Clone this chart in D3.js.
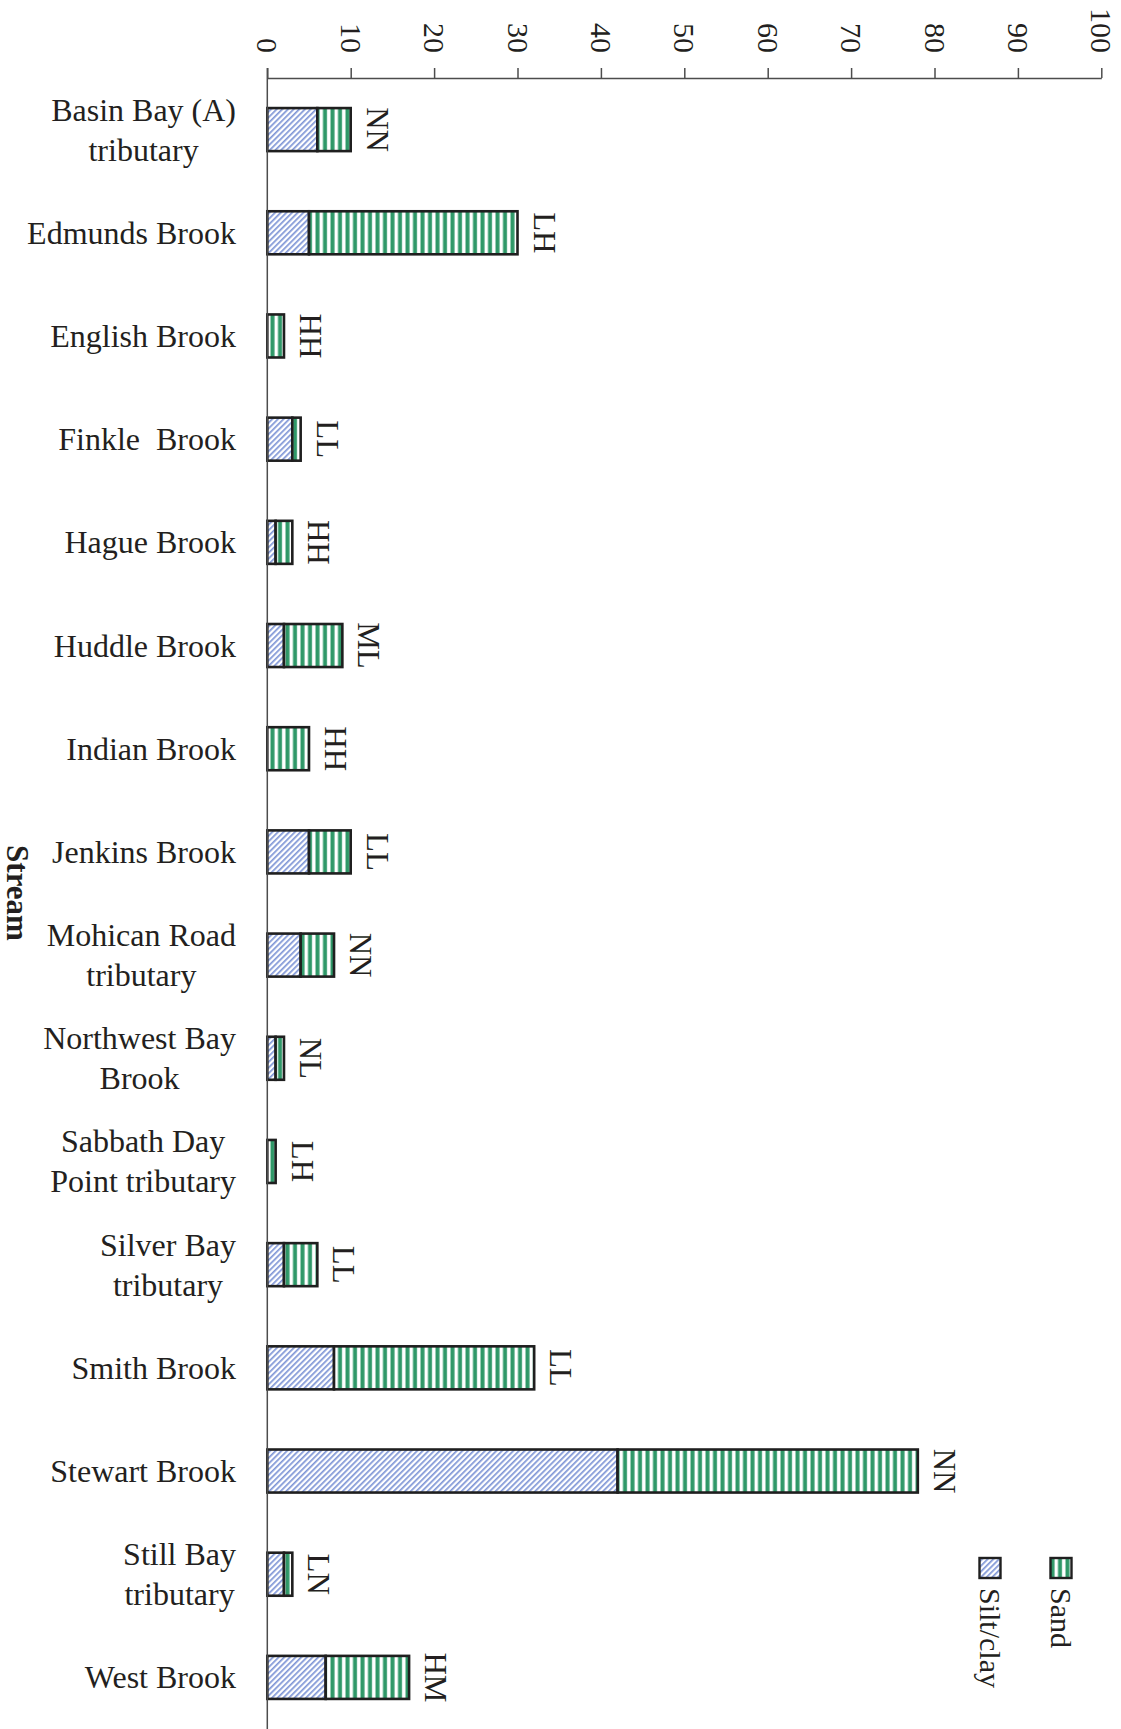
<!DOCTYPE html>
<html>
<head>
<meta charset="utf-8">
<script src="https://cdn.jsdelivr.net/npm/d3@7"></script>
<style>
  html, body { margin: 0; padding: 0; background: #fff; }
  svg { display: block; }
  text { font-family: "Liberation Serif", "Times New Roman", serif; fill: #231f20; }
</style>
</head>
<body>
<svg id="chart" width="1121" height="1729"></svg>
<script>
// Streams (each entry's lines are drawn stacked)
const streams = [
  ["Basin Bay (A)", "tributary"],
  ["Edmunds Brook"],
  ["English Brook"],
  ["Finkle  Brook"],
  ["Hague Brook"],
  ["Huddle Brook"],
  ["Indian Brook"],
  ["Jenkins Brook"],
  ["Mohican Road", "tributary"],
  ["Northwest Bay", "Brook"],
  ["Sabbath Day", "Point tributary"],
  ["Silver Bay", "tributary"],
  ["Smith Brook"],
  ["Stewart Brook"],
  ["Still Bay", "tributary"],
  ["West Brook"]
];
// Percent of substrate per stream
const siltClay = [6, 5, 0, 3, 1, 2, 0, 5, 4, 1, 0, 2, 8, 42, 2, 7];
const sand     = [4, 25, 2, 1, 2, 7, 5, 5, 4, 1, 1, 4, 24, 36, 1, 10];
// Two-letter class shown at the end of each bar
const classes  = ["NN", "LH", "HH", "LL", "HH", "ML", "HH", "LL", "NN", "NL", "LH", "LL", "LL", "NN", "LN", "HM"];
const ticks    = [0, 10, 20, 30, 40, 50, 60, 70, 80, 90, 100];
const seriesNames = ["Silt/clay", "Sand"];

const svg = d3.select("#chart");
const W = 1121, H = 1729;
const x0 = 267.3, x1 = 1101.3, yTop = 78;

const keys = streams.map(s => s.join(" "));
const rows = keys.map((k, i) => ({ key: k, lines: streams[i], silt: siltClay[i], sand: sand[i], cls: classes[i] }));

const x = d3.scaleLinear().domain([0, 100]).range([x0, x1]);
const y = d3.scaleBand().domain(keys).range([yTop, H]).paddingInner(0.583).paddingOuter(0.2915);

// Fill patterns
const defs = svg.append("defs");
const pSand = defs.append("pattern").attr("id", "pat-sand")
  .attr("patternUnits", "userSpaceOnUse").attr("width", 7.5).attr("height", 10);
pSand.append("rect").attr("width", 7.5).attr("height", 10).attr("fill", "#ffffff");
pSand.append("rect").attr("x", 0.5).attr("width", 4).attr("height", 10).attr("fill", "#2f9868");

const pSilt = defs.append("pattern").attr("id", "pat-silt")
  .attr("patternUnits", "userSpaceOnUse").attr("width", 4).attr("height", 4)
  .attr("patternTransform", "rotate(45)");
pSilt.append("rect").attr("width", 4).attr("height", 4).attr("fill", "#ffffff");
pSilt.append("rect").attr("x", 0).attr("width", 1.7).attr("height", 4).attr("fill", "#7f96d6");

const fills = { "Silt/clay": "url(#pat-silt)", "Sand": "url(#pat-sand)" };

// Stacked series
const stack = d3.stack().keys(["silt", "sand"]);
const series = stack(rows);

const barG = svg.append("g");
series.forEach((s, si) => {
  barG.append("g").selectAll("rect")
    .data(s.filter(d => d[1] - d[0] > 0))
    .join("rect")
    .attr("x", d => x(d[0]))
    .attr("y", d => y(d.data.key))
    .attr("width", d => x(d[1]) - x(d[0]))
    .attr("height", y.bandwidth())
    .attr("fill", fills[seriesNames[si]])
    .attr("stroke", "#1f1f1f")
    .attr("stroke-width", 2.6);
});

// Class labels at bar ends
svg.append("g").selectAll("text")
  .data(rows)
  .join("text")
  .attr("transform", d => `translate(${x(d.silt + d.sand) + 16},${y(d.key) + y.bandwidth() / 2}) rotate(90)`)
  .attr("text-anchor", "middle")
  .style("font-size", "31px")
  .text(d => d.cls);

// Value axis along the top
const axis = d3.axisTop(x).tickValues(ticks).tickSize(10).tickSizeOuter(0).tickFormat(d3.format("d"));
const axG = svg.append("g").attr("transform", `translate(0,${yTop})`).call(axis);
axG.select(".domain").attr("stroke", "#4d4d4d").attr("stroke-width", 1.5);
axG.selectAll(".tick line").attr("stroke", "#4d4d4d").attr("stroke-width", 1.5);
axG.selectAll(".tick text")
  .attr("transform", "rotate(90)")
  .attr("x", -25).attr("y", 0).attr("dy", null)
  .attr("text-anchor", "end")
  .attr("dominant-baseline", "central")
  .style("font-family", '"Liberation Serif", serif')
  .style("font-size", "30px")
  .attr("fill", "#231f20");

// Category axis line
svg.append("line")
  .attr("x1", x0).attr("x2", x0).attr("y1", yTop - 10).attr("y2", H)
  .attr("stroke", "#4d4d4d").attr("stroke-width", 1.5);

// Category labels, right-aligned block, lines centred within it
const labelRight = 236, lineGap = 40;
const catG = svg.append("g");
rows.forEach(d => {
  const g = catG.append("g");
  const cy = y(d.key) + y.bandwidth() / 2;
  const n = d.lines.length;
  const texts = d.lines.map((ln, i) => g.append("text")
    .attr("y", cy + (i - (n - 1) / 2) * lineGap)
    .attr("dominant-baseline", "central")
    .attr("text-anchor", "middle")
    .style("font-size", "32px")
    .style("white-space", "pre")
    .text(ln));
  const maxW = d3.max(texts, t => t.node().getComputedTextLength());
  texts.forEach(t => t.attr("x", labelRight - maxW / 2));
});

// Axis title
svg.append("text")
  .attr("transform", "translate(17,893) rotate(90)")
  .attr("text-anchor", "middle")
  .attr("dominant-baseline", "central")
  .style("font-size", "31px")
  .style("font-weight", "bold")
  .text("Stream");

// Legend
const legendItems = [
  { name: "Sand", cx: 1061 },
  { name: "Silt/clay", cx: 990 }
];
const lg = svg.append("g");
legendItems.forEach(it => {
  lg.append("rect")
    .attr("x", it.cx - 10.5).attr("y", 1558).attr("width", 21).attr("height", 20)
    .attr("fill", fills[it.name]).attr("stroke", "#1f1f1f").attr("stroke-width", 2.4);
  lg.append("text")
    .attr("transform", `translate(${it.cx},1588) rotate(90)`)
    .attr("text-anchor", "start")
    .attr("dominant-baseline", "central")
    .style("font-size", "30px")
    .text(it.name);
});
</script>
</body>
</html>
